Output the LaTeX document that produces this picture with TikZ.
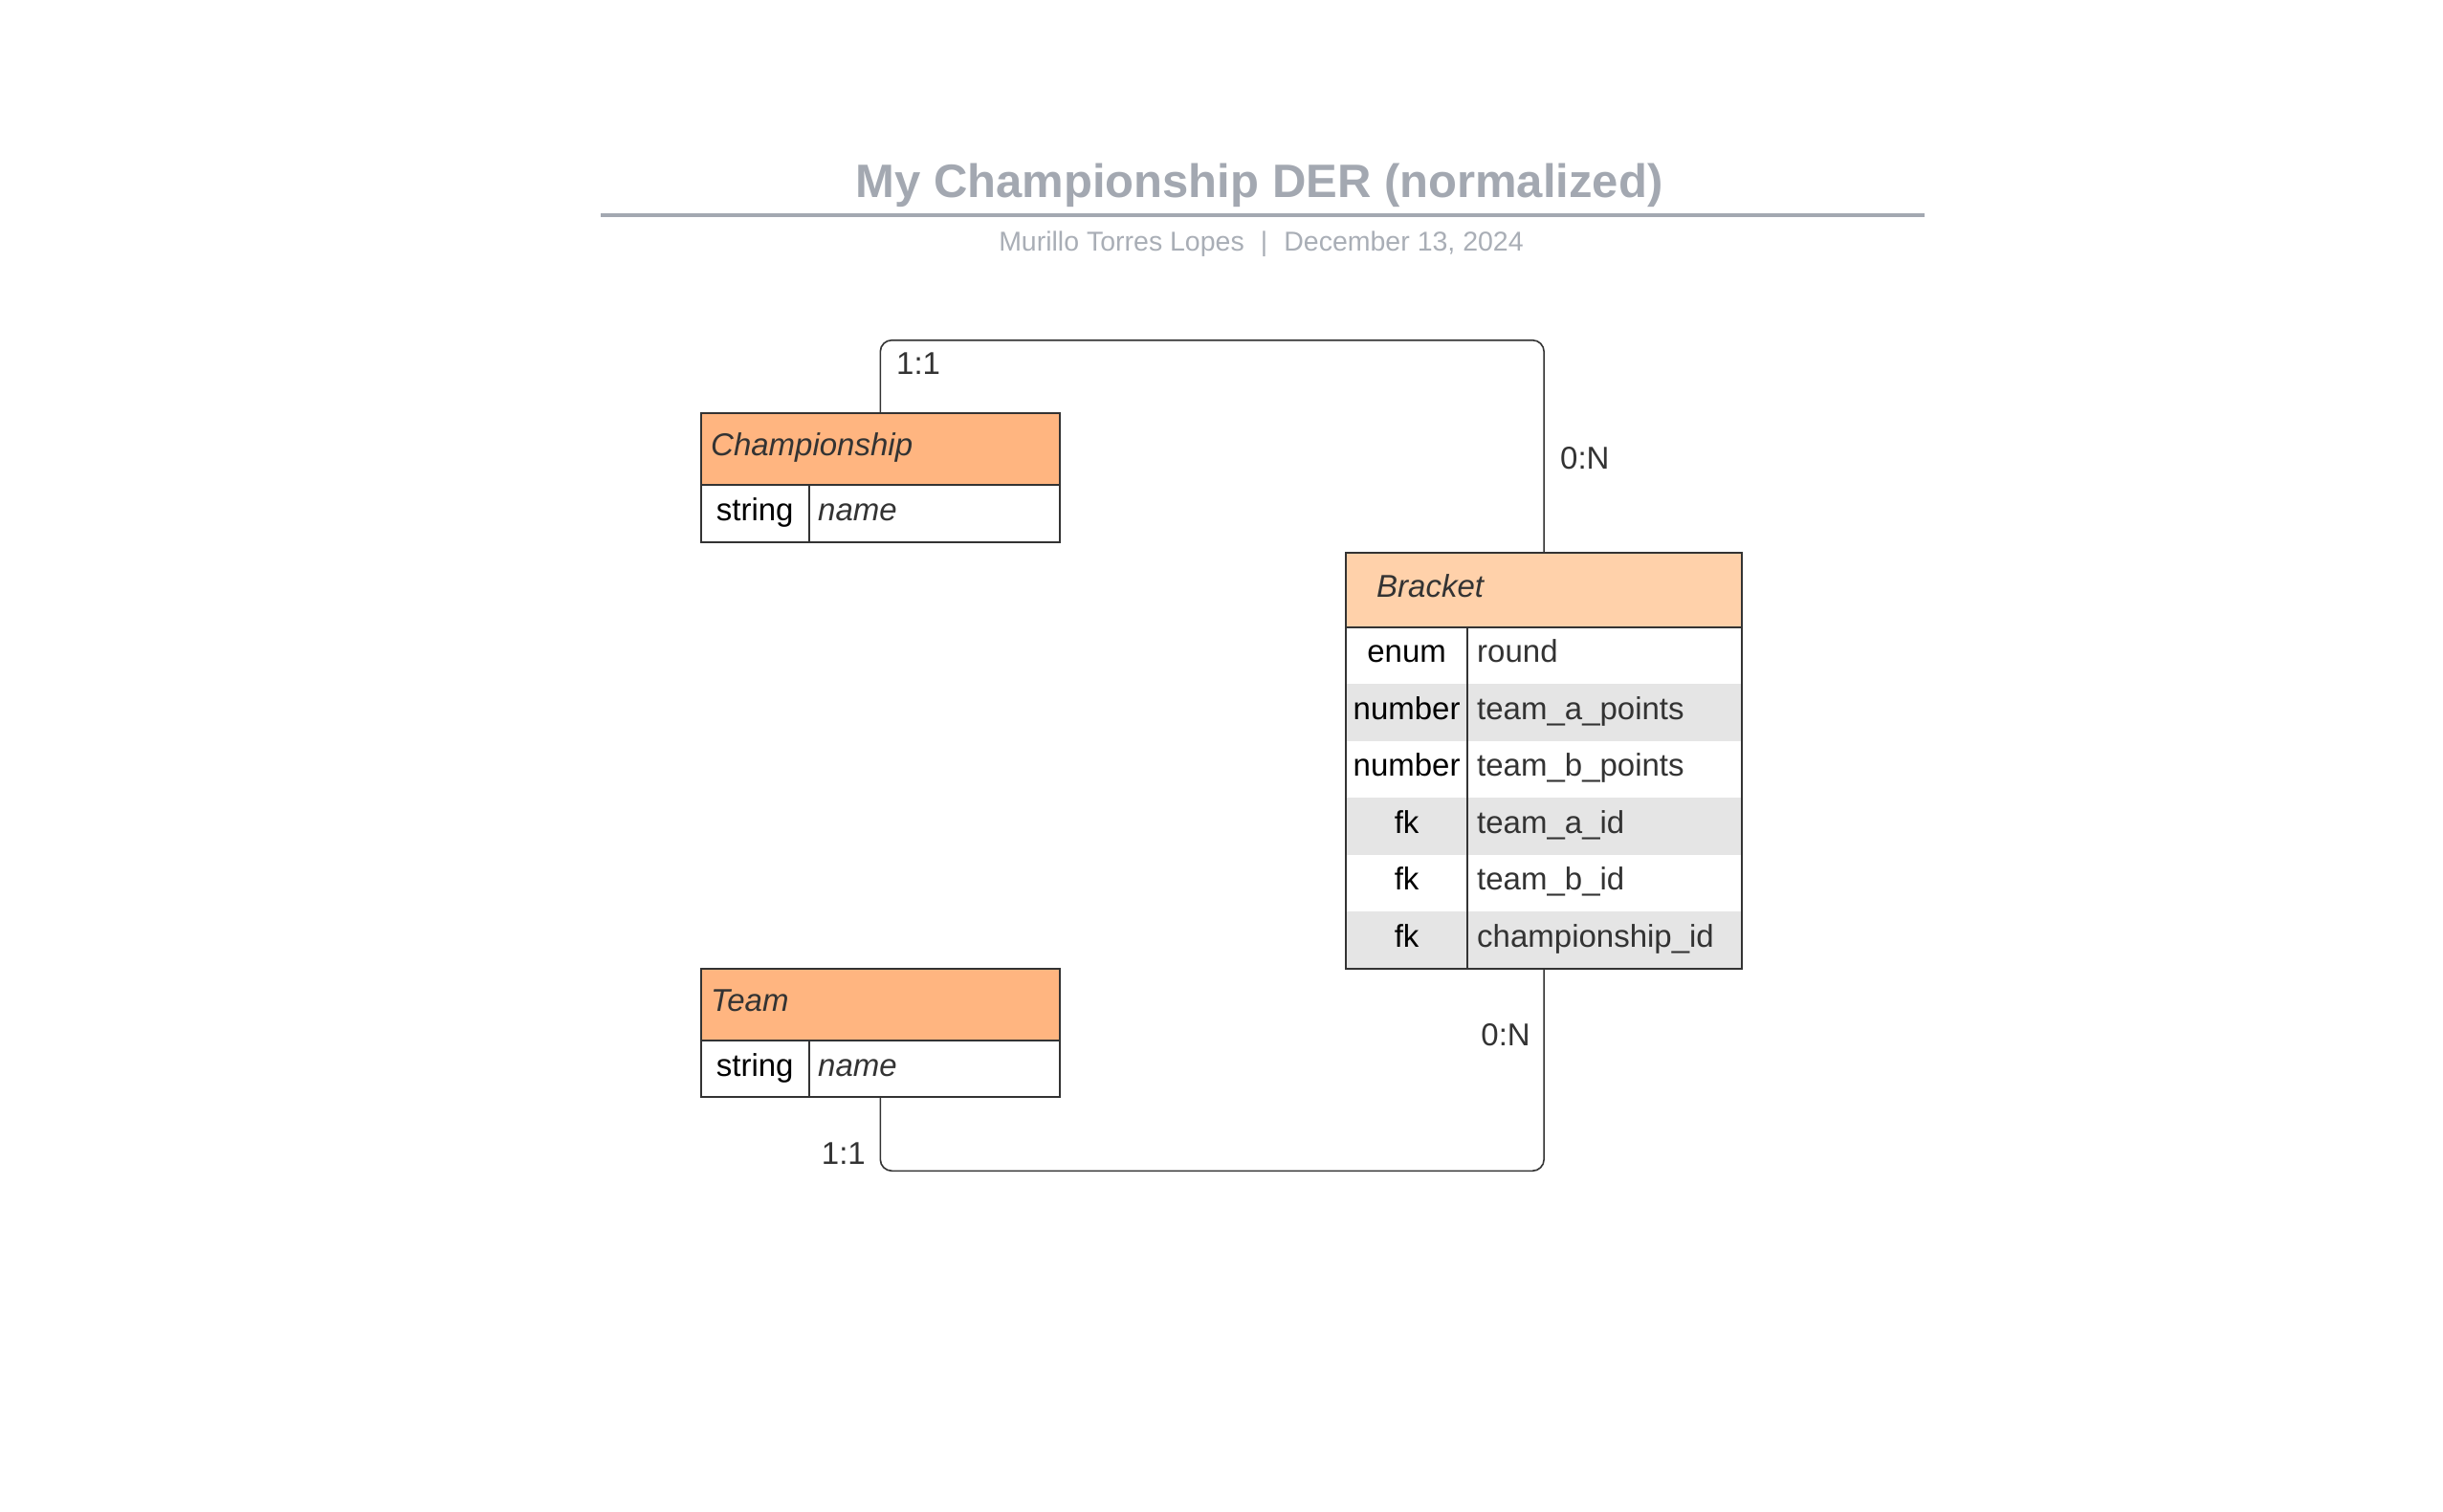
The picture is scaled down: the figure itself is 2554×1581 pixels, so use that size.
\documentclass[tikz,border=0pt]{standalone}
\usepackage{fontspec}
\setmainfont{Liberation Sans}
\definecolor{titleC}{HTML}{A3A8B1}
\definecolor{subC}{HTML}{A9AEB6}
\definecolor{lineC}{HTML}{333333}
\definecolor{hdrA}{HTML}{FFB580}
\definecolor{hdrB}{HTML}{FFD1AA}
\definecolor{rowC}{HTML}{E5E5E5}
\definecolor{txtC}{HTML}{333333}
\tikzset{
  box/.style={draw=lineC, line width=2pt, inner sep=0pt, outer sep=0pt, anchor=north west},
  sepline/.style={draw=lineC, line width=2pt},
  cell/.style={font=\fontsize{33}{40}\selectfont, inner sep=0pt, text height=19pt, text depth=4pt},
  typetxt/.style={cell, text=black, anchor=center},
  attrtxt/.style={cell, text=txtC, anchor=west},
  itxt/.style={cell, text=txtC, anchor=west, font=\fontsize{33}{40}\selectfont\itshape},
  conn/.style={draw=lineC, line width=1.6pt, rounded corners=12pt},
  lbl/.style={font=\fontsize{33}{40}\selectfont, text=txtC, inner sep=0pt},
}
\begin{document}
\begin{tikzpicture}[x=1pt,y=-1pt]
\useasboundingbox[fill=white] (0,0) rectangle (2554,1581);

% Title
\node[anchor=base, inner sep=0pt, text=titleC, font=\fontsize{49}{58}\selectfont\bfseries] (title) at (1316.5,206.7) {My Championship DER (normalized)};
\draw[titleC, line width=4pt] (628,225) -- (2012,225);
\node[anchor=base, inner sep=0pt, text=subC, font=\fontsize{28.5}{34}\selectfont] (subtitle) at (1318.5,262.5) {Murillo Torres Lopes\hspace{0.6em}|\hspace{0.6em}December 13, 2024};

% Championship
\fill[hdrA] (733,431.7) rectangle (1107.6,506.7);
\draw[sepline] (733,506.7) -- (1107.6,506.7);
\draw[sepline] (845.5,506.7) -- (845.5,566.7);
\node[box, minimum width=374.6pt, minimum height=135pt] (champ) at (733,431.7) {};
\node[itxt] (champH) at (743,469.2) {Championship};
\node[typetxt] (champT1) at (789.2,536.7) {string};
\node[itxt] (champA1) at (855,536.7) {name};

% Team
\fill[hdrA] (733,1012.7) rectangle (1107.6,1087.7);
\draw[sepline] (733,1087.7) -- (1107.6,1087.7);
\draw[sepline] (845.5,1087.7) -- (845.5,1147.3);
\node[box, minimum width=374.6pt, minimum height=134.6pt] (team) at (733,1012.7) {};
\node[itxt] (teamH) at (743,1050.2) {Team};
\node[typetxt] (teamT1) at (789.2,1117.5) {string};
\node[itxt] (teamA1) at (855,1117.5) {name};

% Bracket
\fill[hdrB] (1407.3,578.3) rectangle (1821,655.7);
\fill[rowC] (1407.3,715.2) rectangle (1821,774.7);
\fill[rowC] (1407.3,834.2) rectangle (1821,893.7);
\fill[rowC] (1407.3,953.2) rectangle (1821,1012.7);
\draw[sepline] (1407.3,655.7) -- (1821,655.7);
\draw[sepline] (1534,655.7) -- (1534,1012.7);
\node[box, minimum width=413.7pt, minimum height=434.4pt] (bracket) at (1407.3,578.3) {};
\node[itxt] (bracketH) at (1439,617) {Bracket};
\node[typetxt] (bT1) at (1470.6,685.4) {enum};
\node[attrtxt] (bA1) at (1544,685.4) {round};
\node[typetxt] (bT2) at (1470.6,744.9) {number};
\node[attrtxt] (bA2) at (1544,744.9) {team\_a\_points};
\node[typetxt] (bT3) at (1470.6,804.4) {number};
\node[attrtxt] (bA3) at (1544,804.4) {team\_b\_points};
\node[typetxt] (bT4) at (1470.6,863.9) {fk};
\node[attrtxt] (bA4) at (1544,863.9) {team\_a\_id};
\node[typetxt] (bT5) at (1470.6,923.4) {fk};
\node[attrtxt] (bA5) at (1544,923.4) {team\_b\_id};
\node[typetxt] (bT6) at (1470.6,982.9) {fk};
\node[attrtxt] (bA6) at (1544,982.9) {championship\_id};

% Connectors
\draw[conn] (champ.north) -- ++(0,-76) -| (bracket.north);
\draw[conn] (team.south) -- ++(0,77) -| (bracket.south);

% Cardinality labels
\node[lbl, anchor=base west] (l1) at (937,391) {1:1};
\node[lbl, anchor=base west] (l2) at (1631,490) {0:N};
\node[lbl, anchor=base east] (l3) at (1600,1093) {0:N};
\node[lbl, anchor=base east] (l4) at (905,1217) {1:1};
\end{tikzpicture}
\end{document}
